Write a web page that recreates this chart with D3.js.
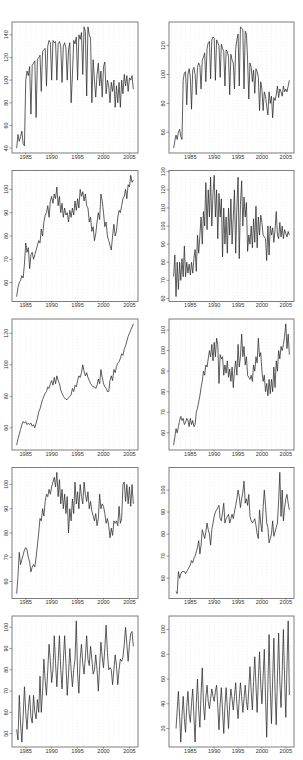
<!DOCTYPE html>
<html><head><meta charset="utf-8">
<script src="https://cdn.jsdelivr.net/npm/d3@7"></script>
<style>body{margin:0;background:#fff}svg{display:block}</style>
</head><body><svg id="c" width="303" height="760"></svg>
<script>
// ---- data (quarterly) ----
const leftStart = 1983.25, rightStart = 1981.5, endYear = 2005.75;
const xTickYears = [1985, 1990, 1995, 2000, 2005];

const s1 = [40,52,46,
 50,55,44,42, 100,108,104,112, 70,113,115,117, 67,118,120,122, 90,125,127,128,
 95,130,135,133, 100,135,133,134, 100,132,134,130, 98,130,133,128, 100,127,133,80,
 104,135,132,138, 100,140,136,142, 105,147,143,86, 147,140,137,80, 118,100,85,105,
 115,95,108,85, 112,116,88,100, 95,80,98,90, 100,76,95,80, 98,76,100,88,
 105,95,104,90, 102,100,104,92];
const s2 = [49,54,
 58,55,60,62, 57,55,96,101, 102,79,100,104, 98,76,103,105, 100,86,105,108,
 106,90,110,112, 115,95,118,122, 123,97,124,126, 125,96,124,122, 120,98,121,118,
 116,92,117,116, 112,86,114,110, 108,90,118,124, 128,92,133,132, 131,90,130,128,
 110,83,108,105, 95,103,87,104, 102,98,75,95, 90,75,88,85, 78,72,88,80,
 85,70,84,82, 86,92,84,90, 88,85,92,88, 90,88,92,96];
const s3 = [54,58,60,
 61,63,62,68, 77,73,75,66, 72,73,70,72, 74,76,78,77, 83,80,86,89,
 90,93,88,95, 97,94,98,96, 101,93,97,90, 94,88,92,89, 90,86,91,88,
 92,89,95,91, 96,92,100,97, 99,95,98,93, 92,86,88,82, 84,78,81,86,
 90,87,98,95, 90,84,86,80, 78,76,74,80, 85,80,82,88, 91,90,93,96,
 97,100,96,102, 101,106,103,104];
const s4 = [72,84,
 61,80,65,80, 70,82,72,89, 72,80,74,79, 73,80,74,82, 87,75,95,85,
 95,105,90,108, 100,124,98,120, 105,127,100,118, 128,105,120,93, 118,105,115,83,
 110,90,105,85, 110,95,115,90, 105,120,85,110, 127,82,112,125, 100,116,105,113,
 86,95,90,100, 88,104,91,111, 88,105,95,106, 102,95,94,93, 81,100,84,100,
 95,99,91,98, 108,95,93,102, 94,100,93,98, 96,94,97,95];
const s5 = [49,53,56,
 59,62,64,63, 64,62,63,62, 63,61,62,60, 63,66,70,72, 75,78,80,82,
 83,86,85,88, 90,87,92,88, 93,90,88,84, 82,80,79,78, 78,79,80,81,
 85,83,87,86, 90,93,92,95, 100,96,93,95, 92,90,88,87, 86,86,85,87,
 91,88,97,92, 88,86,85,83, 83,90,93,90, 97,95,99,101, 102,104,107,106,
 110,112,115,118, 120,122,124,126];
const s6 = [54,58,
 62,60,63,66, 68,66,67,64, 65,67,66,63, 67,64,66,63, 64,70,72,75,
 78,82,85,90, 88,93,92,96, 100,97,103,95, 104,97,106,103, 84,98,96,97,
 88,93,89,95, 87,91,85,92, 82,90,95,88, 103,92,97,108, 97,102,93,97,
 88,87,86,88, 85,93,90,97, 94,106,97,99, 90,85,88,80, 84,78,86,79,
 86,80,92,82, 95,90,100,96, 102,100,103,107, 113,101,108,98];
const s7 = [55,62,72,
 67,69,71,73, 74,73,70,68, 64,66,67,66, 70,75,80,86, 85,90,87,93,
 96,95,98,96, 99,101,103,99, 105,95,102,92, 98,90,96,88, 95,80,90,85,
 94,88,101,92, 97,90,100,95, 92,101,96,93, 97,90,93,89, 87,85,88,83,
 86,96,90,92, 91,88,84,86, 83,78,82,79, 85,84,85,83, 91,84,86,100,
 101,93,100,92, 99,91,100,92];
const s8 = [null,null,
 54,53,63,60, 62,63,63,63, 62,63,64,65, 66,68,67,69, 70,72,74,77,
 71,75,82,80, 78,81,85,82, 80,75,82,85, 88,90,91,92, 93,87,86,90,
 94,85,87,88, 89,85,87,89, 87,90,93,96, 100,97,92,96, 99,104,94,96,
 93,98,88,86, 85,86,87,84, 80,78,91,85, 81,92,100,93, 85,83,76,78,
 80,86,79,81, 83,85,95,108, 88,100,86,92, 96,98,94,91];
const s9 = [52,47,68,
 55,46,58,72, 60,52,62,68, 58,55,68,60, 57,66,60,77, 60,70,85,75,
 68,80,92,84, 74,80,96,83, 72,84,96,80, 71,84,96,83, 68,78,90,80,
 72,80,85,103, 78,69,85,92, 83,78,86,96, 85,82,91,85, 78,80,87,80,
 70,82,93,86, 81,90,101,88, 80,81,80,73, 80,87,82,73, 80,85,84,86,
 92,100,92,84, 92,97,98,91];
const s10 = [null,null,
 20,35,50,30, 9,30,46,28, 17,38,50,32, 25,40,52,30, 9,40,60,35,
 21,48,69,40, 27,45,55,42, 36,44,52,46, 42,50,55,38, 19,40,53,34,
 16,38,53,36, 20,40,52,44, 35,46,57,40, 28,44,57,46, 33,44,55,42,
 35,52,70,50, 35,58,78,55, 33,60,82,56, 40,62,84,45, 13,55,96,52,
 24,60,93,50, 23,62,97,58, 37,66,100,60, 29,70,107,47];

const yTicks1 = [40,60,80,100,120,140];
const yTicks2 = [60,80,100,120];
const yTicks3 = [60,70,80,90,100];
const yTicks4 = [60,70,80,90,100,110,120,130];
const yTicks5 = [60,80,100,120];
const yTicks6 = [60,70,80,90,100,110];
const yTicks7 = [60,70,80,90,100];
const yTicks8 = [60,70,80,90,100];
const yTicks9 = [50,60,70,80,90,100];
const yTicks10 = [20,40,60,80,100];

const series = [s1,s2,s3,s4,s5,s6,s7,s8,s9,s10];
const yTicks = [yTicks1,yTicks2,yTicks3,yTicks4,yTicks5,yTicks6,yTicks7,yTicks8,yTicks9,yTicks10];

// ---- layout ----
const colX = [12, 169], colW = [126, 125];
const rowTop0 = 22, rowPitch = 148.5, boxH = 131;
const FONT = "'Liberation Sans', Arial, sans-serif";

const svg = d3.select("#c");
svg.append("rect").attr("width",303).attr("height",760).attr("fill","#fff");

function pad(ext){ const r = ext[1]-ext[0]; return [ext[0]-0.04*r, ext[1]+0.04*r]; }

series.forEach((vals, i) => {
  const col = i % 2, row = Math.floor(i / 2);
  const start = col === 0 ? leftStart : rightStart;
  const data = vals.map((v, k) => ({t: start + k/4, v}));
  const x0 = colX[col], x1 = colX[col] + colW[col];
  const y0 = rowTop0 + row*rowPitch, y1 = y0 + boxH;
  const x = d3.scaleLinear().domain(pad([start, endYear])).range([x0, x1]);
  const y = d3.scaleLinear().domain(pad(d3.extent(vals.filter(v => v != null)))).range([y1, y0]);
  const g = svg.append("g");

  // dotted yearly grid
  const yrs = d3.range(Math.ceil(x.domain()[0]), Math.floor(x.domain()[1]) + 1);
  g.selectAll("line.grid").data(yrs).enter().append("line")
    .attr("x1", d => x(d)).attr("x2", d => x(d))
    .attr("y1", y0).attr("y2", y1)
    .attr("stroke", "#cfcfcf").attr("stroke-width", 0.5)
    .attr("stroke-dasharray", "0.7,2.2");

  // series line
  g.append("path").datum(data)
    .attr("fill", "none").attr("stroke", "#2a2a2a").attr("stroke-width", 0.75)
    .attr("stroke-linejoin", "round")
    .attr("d", d3.line().defined(d => d.v != null).x(d => x(d.t)).y(d => y(d.v)));

  // box
  g.append("rect").attr("x", x0).attr("y", y0).attr("width", x1 - x0).attr("height", y1 - y0)
    .attr("fill", "none").attr("stroke", "#707070").attr("stroke-width", 0.9);

  // y axis
  const yt = yTicks[i];
  g.selectAll("line.yt").data(yt).enter().append("line")
    .attr("x1", x0 - 2.5).attr("x2", x0).attr("y1", d => y(d)).attr("y2", d => y(d))
    .attr("stroke", "#555").attr("stroke-width", 0.6);
  g.selectAll("text.yl").data(yt).enter().append("text")
    .attr("transform", d => `translate(${x0 - 4.3},${y(d)}) rotate(-90)`)
    .attr("text-anchor", "middle")
    .attr("font-family", FONT).attr("font-size", 5.4).attr("fill", "#333")
    .text(d => d);

  // x axis
  g.selectAll("line.xt").data(xTickYears).enter().append("line")
    .attr("x1", d => x(d)).attr("x2", d => x(d)).attr("y1", y1).attr("y2", y1 + 1.5)
    .attr("stroke", "#555").attr("stroke-width", 0.6);
  g.selectAll("text.xl").data(xTickYears).enter().append("text")
    .attr("x", d => x(d)).attr("y", y1 + 5.8)
    .attr("text-anchor", "middle")
    .attr("font-family", FONT).attr("font-size", 5.6).attr("fill", "#333")
    .text(d => d);
});
</script></body></html>
